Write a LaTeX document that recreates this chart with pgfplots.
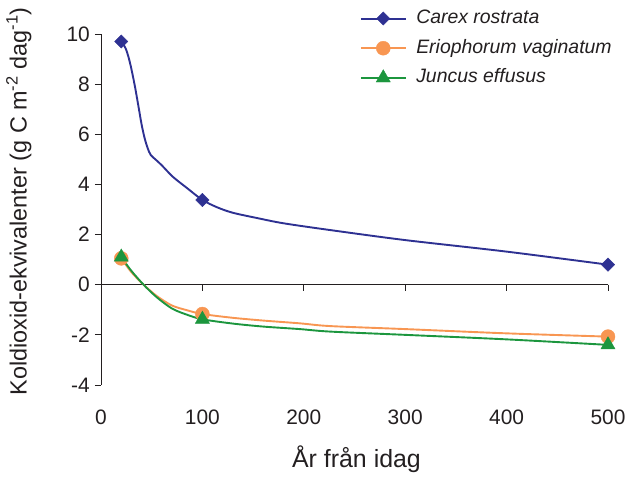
\documentclass[border=0pt]{standalone}
\usepackage{fontspec}
\setmainfont{Liberation Sans}
\usepackage{pgfplots}
\pgfplotsset{compat=1.18}
\definecolor{carex}{RGB}{46,49,146}
\definecolor{erio}{RGB}{248,150,82}
\definecolor{juncus}{RGB}{28,150,62}
\definecolor{txt}{RGB}{35,31,32}

\begin{document}
\begin{tikzpicture}
\begin{axis}[
  scale only axis,
  width=507bp, height=351bp,
  xmin=0, xmax=500, ymin=-4, ymax=10,
  clip=false,
  axis x line*=bottom, axis y line*=left,
  x axis line style={draw=none},
  y axis line style={line width=0.8bp, txt},
  xtick={0,100,...,500}, ytick={-4,-2,...,10},
  x tick style={draw=none},
  y tick style={line width=0.8bp, txt},
  tick align=outside, major tick length=6bp,
  tick label style={font=\fontsize{21}{21}\selectfont, text=txt},
  /pgf/number format/assume math mode=true,
  yticklabel style={anchor=east, inner sep=0pt, xshift=-5bp},
  xticklabel style={anchor=base, inner sep=0pt, yshift=-33bp},
  legend style={draw=none, fill=none, inner sep=0pt,
    at={(axis description cs:0.51,1.076)}, anchor=north west,
    font=\fontsize{19.5}{20}\selectfont\itshape, text=txt,
    nodes={inner xsep=5.5bp, inner ysep=2bp, text height=14bp, text depth=4bp},
    row sep=7.7bp,
    /tikz/every odd column/.append style={column sep=4bp}},
  legend cell align=left,
  legend image code/.code={\draw[#1, line width=2bp, mark indices={2}] plot coordinates {(0bp,0bp)(22.5bp,0bp)(45bp,0bp)};},
]
\draw[line width=0.8bp, txt] (axis cs:0,0) -- (axis cs:500,0);
\pgfplotsinvokeforeach{100,200,300,400,500}{\draw[line width=0.8bp, txt] (axis cs:#1,0) -- ([yshift=-6bp]axis cs:#1,0);}

% Carex rostrata
\addplot[carex, line width=1.9bp, smooth, mark=square*, mark size=4.7bp,
  mark indices={1,15,23}, mark options={rotate=45, solid, line width=0.4bp}] coordinates {
  (20,9.7) (24,9.45) (27,9.1) (30,8.6) (33.5,7.9) (37,7.1) (40,6.4) (43,5.85)
  (46,5.45) (49,5.18) (55,4.95) (60,4.76) (71,4.3) (85,3.85) (100,3.38) (115,3.08)
  (130,2.87) (155,2.65) (180,2.45) (226,2.18) (300,1.78) (400,1.32) (500,0.8)};
\addlegendentry{Carex rostrata}

% Eriophorum vaginatum
\addplot[erio, line width=1.9bp, smooth, mark=*, mark size=7bp,
  mark indices={1,7,14}, mark options={solid, line width=0.4bp}] coordinates {
  (20,1.05) (30,0.5) (42,0) (55,-0.45) (70,-0.83) (85,-1.02) (100,-1.17)
  (130,-1.32) (160,-1.43) (196,-1.54) (226,-1.65) (300,-1.77) (400,-1.94) (500,-2.07)};
\addlegendentry{Eriophorum vaginatum}

% Juncus effusus
\addplot[juncus, line width=1.9bp, smooth, mark=triangle*, mark size=8.2bp,
  mark indices={1,7,14}, mark options={solid, line width=0.4bp}] coordinates {
  (20,1.1) (30,0.55) (42,0) (55,-0.5) (70,-0.95) (85,-1.2) (100,-1.38)
  (130,-1.55) (160,-1.67) (196,-1.77) (226,-1.87) (300,-2.0) (400,-2.18) (500,-2.4)};
\addlegendentry{Juncus effusus}
\end{axis}

\node[rotate=90, anchor=base, font=\fontsize{23.5}{24}\selectfont, text=txt]
  at (-74.3bp,183.5bp) {Koldioxid-ekvivalenter (g C m\textsuperscript{-2} dag\textsuperscript{-1})};
\node[anchor=base, font=\fontsize{25}{25}\selectfont, text=txt]
  at (255.5bp,-82.7bp) {År från idag};

\pgfresetboundingbox
\path (-101bp,-95bp) rectangle (526bp,385bp);
\end{tikzpicture}
\end{document}
